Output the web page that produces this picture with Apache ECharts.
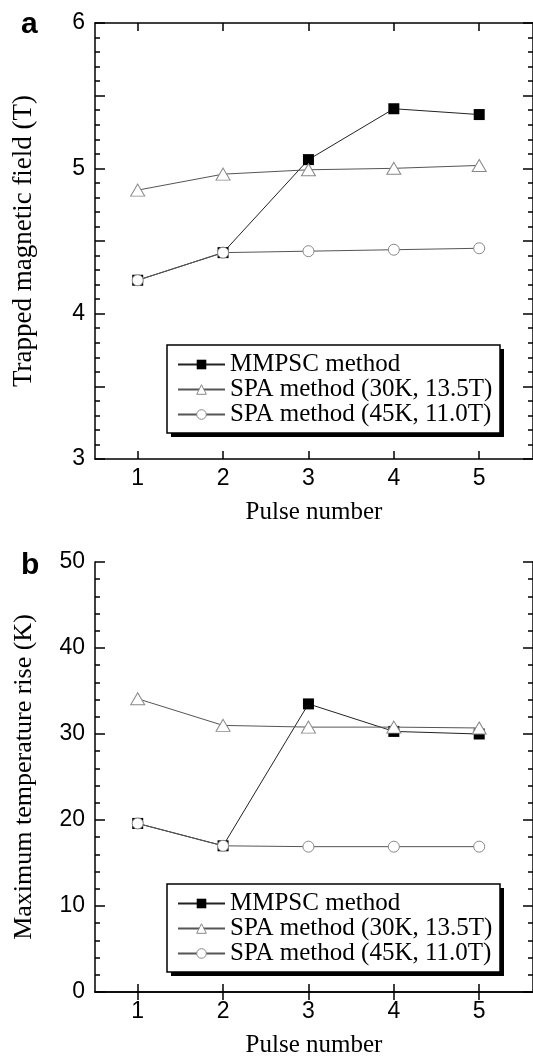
<!DOCTYPE html>
<html>
<head>
<meta charset="utf-8">
<script src="https://cdn.jsdelivr.net/npm/echarts@6/dist/echarts.min.js"></script>
<style>
  html, body { margin: 0; padding: 0; background: #fff; }
  #chart { width: 533px; height: 1059px; }
</style>
</head>
<body>
<div id="chart"></div>
<script>
// data
const pulses = [1, 2, 3, 4, 5]
const seriesNames = ['MMPSC method', 'SPA method (30K, 13.5T)', 'SPA method (45K, 11.0T)']
const fieldMMPSC = [4.23, 4.42, 5.06, 5.41, 5.37]
const fieldSPA30 = [4.85, 4.96, 4.99, 5.00, 5.02]
const fieldSPA45 = [4.23, 4.42, 4.43, 4.44, 4.45]
const tempMMPSC = [19.6, 17.0, 33.5, 30.3, 30.0]
const tempSPA30 = [34.1, 31.0, 30.8, 30.8, 30.7]
const tempSPA45 = [19.6, 17.0, 16.9, 16.9, 16.9]

const SANS = 'Liberation Sans, Arial, sans-serif'
const SERIF = 'Liberation Serif, Times New Roman, serif'
const axisLine = { show: true, lineStyle: { color: '#000', width: 1.5 } }

const pairs = (ys) => pulses.map((p, i) => [p, ys[i]])

// x axes: bottom with labels, top with ticks only
const xAxes = (gridIndex) => [
  {
    gridIndex, type: 'value', position: 'bottom', min: 0.5, max: 5.63,
    name: 'Pulse number', nameLocation: 'middle', nameGap: 41,
    nameTextStyle: { fontFamily: SERIF, fontSize: 25, color: '#000' },
    axisLine,
    axisTick: { inside: true, length: 8, customValues: pulses, lineStyle: { color: '#000', width: 1.5 } },
    axisLabel: { customValues: pulses, margin: 8, fontFamily: SANS, fontSize: 23, color: '#000' },
    splitLine: { show: false }
  },
  {
    gridIndex, type: 'value', position: 'top', min: 0.5, max: 5.63,
    axisLine,
    axisTick: { inside: true, length: 8, customValues: pulses, lineStyle: { color: '#000', width: 1.5 } },
    axisLabel: { show: false },
    splitLine: { show: false }
  }
]

// y axes: left with labels, right with ticks only
const yAxes = (gridIndex, min, max, interval, name, nameSize, labelFn) => ['left', 'right'].map(pos => ({
  gridIndex, type: 'value', position: pos, min, max, interval,
  name: pos === 'left' ? name : '', nameLocation: 'middle', nameGap: 58,
  nameTextStyle: { fontFamily: SERIF, fontSize: nameSize, color: '#000' },
  axisLine,
  axisTick: { show: true, inside: true, length: 10, lineStyle: { color: '#000', width: 1.5 } },
  minorTick: { show: true, splitNumber: 5, length: 5, lineStyle: { color: '#000', width: 1.5 } },
  axisLabel: { show: pos === 'left', margin: 10, fontFamily: SANS, fontSize: 23, color: '#000', formatter: labelFn },
  splitLine: { show: false },
  minorSplitLine: { show: false }
}))

const makeSeries = (xi, yi, data) => [
  {
    name: seriesNames[0], type: 'line', xAxisIndex: xi, yAxisIndex: yi, z: 2,
    data: pairs(data[0]), symbol: 'rect', symbolSize: 11,
    itemStyle: { color: '#000' }, lineStyle: { color: '#222', width: 1 }
  },
  {
    name: seriesNames[1], type: 'line', xAxisIndex: xi, yAxisIndex: yi, z: 3,
    data: pairs(data[1]), symbol: 'triangle', symbolSize: [14, 12],
    itemStyle: { color: '#fff', borderColor: '#888', borderWidth: 1 },
    lineStyle: { color: '#555', width: 1 }
  },
  {
    name: seriesNames[2], type: 'line', xAxisIndex: xi, yAxisIndex: yi, z: 4,
    data: pairs(data[2]), symbol: 'circle', symbolSize: 11,
    itemStyle: { color: '#fff', borderColor: '#888', borderWidth: 1 },
    lineStyle: { color: '#555', width: 1 }
  }
]

const legendBox = (top) => ({
  data: seriesNames, orient: 'vertical', left: 167, top,
  itemWidth: 47, itemHeight: 12, itemGap: 0,
  padding: [7, 8, 10, 10],
  selectedMode: false, z: 10,
  itemStyle: { borderWidth: 1 },
  textStyle: { fontFamily: SERIF, fontSize: 25, lineHeight: 24, color: '#000' }
})

// legend frame with a hard drop shadow
const legendFrame = (top) => [
  { type: 'rect', z: 5, shape: { x: 171, y: top + 4, width: 333, height: 88 }, style: { fill: '#000' } },
  { type: 'rect', z: 6, shape: { x: 167, y: top, width: 333, height: 88 }, style: { fill: '#fff', stroke: '#000', lineWidth: 1.5 } }
]

const chart = echarts.init(document.getElementById('chart'), null, { renderer: 'canvas' })
chart.setOption({
  animation: false,
  backgroundColor: '#fff',
  title: [
    { text: 'a', left: 16, top: 5, textStyle: { fontFamily: SANS, fontSize: 30, fontWeight: 'bold', color: '#000' } },
    { text: 'b', left: 16, top: 546, textStyle: { fontFamily: SANS, fontSize: 30, fontWeight: 'bold', color: '#000' } }
  ],
  grid: [
    { left: 95, top: 23, width: 439, height: 436 },
    { left: 95, top: 562, width: 439, height: 436 }
  ],
  graphic: [...legendFrame(345), ...legendFrame(884)],
  legend: [legendBox(345), legendBox(884)],
  xAxis: [...xAxes(0), ...xAxes(1)],
  yAxis: [
    ...yAxes(0, 3, 6, 0.5, 'Trapped magnetic field (T)', 27, v => Number.isInteger(v) ? String(v) : ''),
    ...yAxes(1, 0, 50, 10, 'Maximum temperature rise (K)', 26, v => String(v))
  ],
  series: [
    ...makeSeries(0, 0, [fieldMMPSC, fieldSPA30, fieldSPA45]),
    ...makeSeries(2, 2, [tempMMPSC, tempSPA30, tempSPA45])
  ]
})
</script>
</body>
</html>
